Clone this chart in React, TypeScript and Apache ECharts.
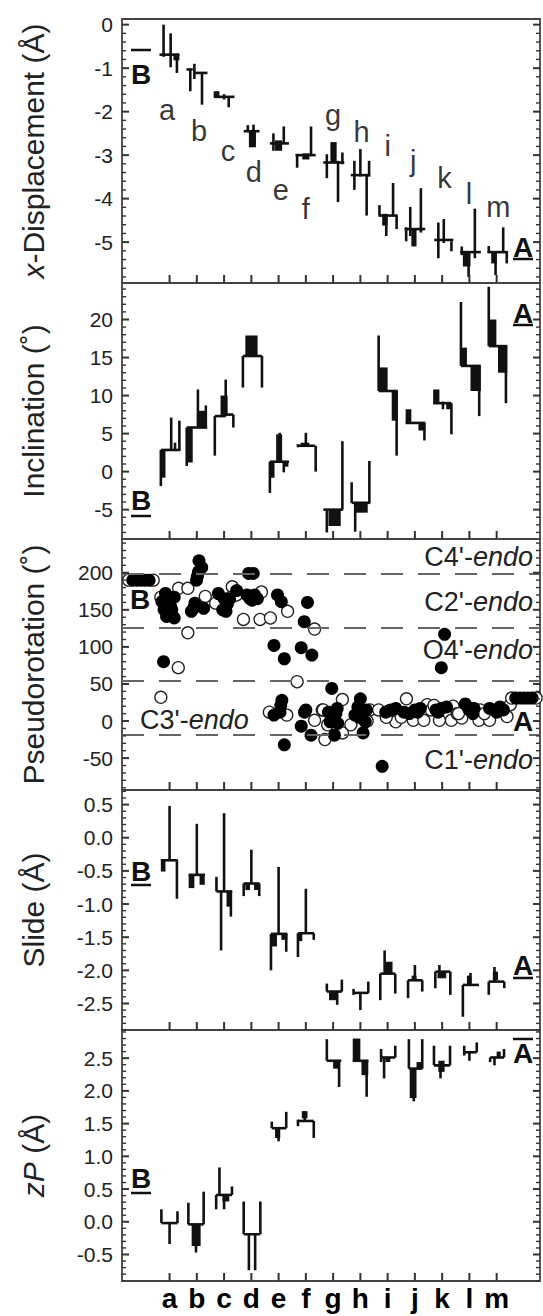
import React, { useEffect, useRef } from 'react';
import * as echarts from 'echarts';

const FONT = "'Liberation Sans', Arial, Helvetica, sans-serif";

// ---- categories (base-pair steps) ----
const CATEGORIES = ['a', 'b', 'c', 'd', 'e', 'f', 'g', 'h', 'i', 'j', 'k', 'l', 'm'];
const CAT_IDX = CATEGORIES.map((_, i) => i);
const X_MIN = -1.745;
const X_MAX = 13.59;

// ---- tick labels ----
const DISP_TICKS = [0, -1, -2, -3, -4, -5];
const INCL_TICKS = [-5, 0, 5, 10, 15, 20];
const PSEUDO_TICKS = [-50, 0, 50, 100, 150, 200];
const SLIDE_TICKS = [-2.5, -2, -1.5, -1, -0.5, 0, 0.5];
const ZP_TICKS = [-0.5, 0, 0.5, 1, 1.5, 2, 2.5];
const PSEUDO_ZONES = [-18, 54, 126, 198];

// ---- step glyphs: [category, dx1, dx2, y1, y2] ----
const DISP_SEGS: number[][] = [
  [0, -0.37, 0.36, -0.69, -0.69], [0, -0.22, -0.22, 0.0, -0.74], [0, 0.04, 0.04, -0.2, -0.98], [0, 0.14, 0.36, -0.67, -0.82], [0, 0.27, 0.27, -0.67, -1.11],
  [1, -0.38, -0.15, -1.03, -1.03], [1, -0.24, -0.24, -1.03, -1.53], [1, -0.09, -0.09, -0.9, -1.25], [1, 0.19, 0.19, -1.1, -1.84], [1, -0.09, 0.39, -1.11, -1.11],
  [2, -0.38, -0.17, -1.53, -1.65], [2, -0.38, 0.38, -1.66, -1.66], [2, 0, 0, -1.6, -1.72], [2, 0.17, 0.17, -1.66, -1.9],
  [3, -0.28, 0.3, -2.45, -2.45], [3, -0.13, -0.13, -2.31, -2.47], [3, -0.09, 0.17, -2.45, -2.82], [3, 0.08, 0.08, -2.3, -2.45],
  [4, -0.32, 0.38, -2.73, -2.73], [4, -0.19, -0.19, -2.5, -2.9], [4, 0.19, 0.19, -2.34, -2.74], [4, -0.13, 0.13, -2.66, -2.9],
  [5, -0.38, 0.36, -3.0, -3.0], [5, -0.32, -0.32, -2.98, -3.29], [5, -0.13, 0.13, -2.96, -3.1], [5, 0.19, 0.19, -2.34, -2.98],
  [6, -0.36, 0.41, -3.17, -3.17], [6, -0.23, -0.23, -2.98, -3.53], [6, -0.1, 0.13, -2.7, -3.17], [6, 0.18, 0.18, -3.13, -4.08], [6, 0.34, 0.34, -2.94, -3.21],
  [7, -0.35, 0.36, -3.46, -3.46], [7, -0.22, -0.22, -3.13, -3.8], [7, 0, 0, -2.86, -3.49], [7, 0.23, 0.23, -3.45, -4.39], [7, 0.32, 0.32, -3.13, -3.49],
  [8, -0.33, 0.37, -4.39, -4.39], [8, -0.3, -0.3, -4.15, -4.39], [8, -0.2, 0, -4.35, -4.62], [8, -0.05, -0.05, -4.39, -4.86], [8, 0.2, 0.2, -3.64, -4.39], [8, 0.33, 0.33, -4.39, -4.7],
  [9, -0.38, 0.38, -4.7, -4.7], [9, -0.32, -0.32, -4.66, -4.98], [9, -0.17, -0.17, -4.19, -4.86], [9, -0.13, 0.06, -4.7, -5.1], [9, 0.22, 0.22, -3.76, -4.78],
  [10, -0.29, 0.41, -4.95, -4.95], [10, -0.14, -0.14, -4.55, -5.37], [10, 0.06, 0.06, -4.47, -5.02], [10, 0.34, 0.34, -4.98, -5.21],
  [11, -0.34, 0.42, -5.23, -5.23], [11, -0.28, -0.28, -5.1, -5.3], [11, -0.24, 0.04, -5.21, -5.56], [11, -0.03, -0.03, -5.21, -5.8], [11, 0.2, 0.2, -4.23, -5.37],
  [12, -0.33, 0.4, -5.23, -5.23], [12, -0.29, -0.29, -5.09, -5.25], [12, -0.2, 0, -5.21, -5.49], [12, -0.04, -0.04, -5.21, -5.76], [12, 0.24, 0.24, -4.66, -5.21], [12, 0.37, 0.37, -5.21, -5.49],
];

const INCL_SEGS: number[][] = [
  [0, -0.32, -0.32, 2.85, -1.9], [0, -0.32, -0.15, 2.85, -0.8], [0, -0.32, 0.4, 2.85, 2.85], [0, 0.06, 0.06, 7.1, 2.85], [0, 0.2, 0.2, 3.8, 2.85], [0, 0.36, 0.36, 6.7, 2.85],
  [1, -0.37, -0.37, 5.8, 0.75], [1, -0.37, -0.15, 5.8, 1.2], [1, -0.37, 0.38, 5.8, 5.8], [1, 0.04, 0.04, 10.8, 5.8], [1, 0.06, 0.33, 8.0, 5.8], [1, 0.33, 0.33, 8.7, 5.8],
  [2, -0.34, -0.34, 7.3, 2.1], [2, -0.34, 0.06, 7.3, 7.3], [2, 0.06, 0.06, 12.1, 7.3], [2, -0.13, 0.13, 10.0, 7.3], [2, 0.0, 0.34, 7.5, 7.5], [2, 0.34, 0.34, 7.5, 5.8],
  [3, -0.31, -0.31, 15.2, 11.05], [3, -0.22, 0.23, 17.9, 15.2], [3, -0.31, 0.39, 15.2, 15.2], [3, 0.39, 0.39, 15.2, 11.05],
  [4, -0.32, -0.32, 1.3, -2.8], [4, -0.32, -0.15, 1.3, -0.8], [4, -0.32, 0.38, 1.3, 1.3], [4, 0.04, 0.04, 5.1, 1.3], [4, -0.09, 0.13, 4.9, 1.3], [4, 0.19, 0.19, 1.3, -0.1], [4, 0.19, 0.36, 1.3, 0.65],
  [5, -0.32, 0.33, 3.4, 3.4], [5, -0.19, 0.13, 3.8, 3.3], [5, 0, 0, 5.1, 3.4], [5, 0.36, 0.36, 3.4, 0.0], [5, -0.29, -0.29, 3.6, 3.2],
  [6, -0.23, -0.23, -5, -8.0], [6, -0.17, 0.28, -5, -7.15], [6, -0.36, 0.36, -5, -5], [6, 0.34, 0.34, 4.0, -5],
  [7, -0.32, -0.32, -1.4, -4.1], [7, -0.19, -0.19, -4.1, -7.9], [7, -0.22, 0.27, -4.1, -5.4], [7, -0.32, 0.36, -4.1, -4.1], [7, 0.33, 0.33, 1.4, -4.1],
  [8, -0.33, -0.33, 17.9, 10.6], [8, -0.33, 0, 13.7, 10.6], [8, -0.33, 0.37, 10.6, 10.6], [8, 0.15, 0.37, 10.6, 6.7], [8, 0.33, 0.33, 10.6, 2.1],
  [9, -0.34, -0.13, 8.2, 6.4], [9, -0.34, 0.38, 6.4, 6.4], [9, 0.13, 0.38, 6.4, 5.4], [9, 0.35, 0.35, 6.4, 4.1],
  [10, -0.33, -0.1, 10.8, 8.9], [10, -0.33, 0.34, 9.0, 9.0], [10, 0.03, 0.03, 9.2, 8.2], [10, 0.15, 0.34, 9.0, 8.2], [10, 0.34, 0.34, 9.0, 4.9],
  [11, -0.31, -0.31, 22.3, 13.9], [11, -0.31, -0.09, 16.3, 13.9], [11, -0.31, 0.42, 13.9, 13.9], [11, 0.04, 0.42, 13.9, 10.6], [11, 0.36, 0.36, 13.9, 7.3],
  [12, -0.29, -0.29, 24.3, 16.5], [12, -0.29, -0.01, 20, 16.5], [12, -0.29, 0.39, 16.5, 16.5], [12, 0.05, 0.39, 16.5, 13], [12, 0.34, 0.34, 16.5, 9],
];

const SLIDE_SEGS: number[][] = [
  [0, -0.32, -0.15, -0.34, -0.51], [0, 0, 0, 0.48, -0.34], [0, -0.32, 0.3, -0.34, -0.34], [0, 0.27, 0.27, -0.34, -0.92],
  [1, -0.3, -0.09, -0.56, -0.76], [1, 0, 0, 0.21, -0.56], [1, -0.3, 0.3, -0.56, -0.56], [1, 0.1, 0.29, -0.56, -0.71],
  [2, -0.28, -0.28, -0.59, -0.81], [2, -0.11, -0.11, -0.81, -1.7], [2, 0, 0, 0.37, -0.81], [2, -0.28, 0.3, -0.81, -0.81], [2, 0.09, 0.29, -0.81, -1.04], [2, 0.25, 0.25, -0.81, -1.19],
  [3, -0.28, -0.28, -0.69, -0.88], [3, 0, 0, -0.18, -0.69], [3, -0.28, 0.3, -0.69, -0.69], [3, -0.22, -0.05, -0.69, -0.79], [3, 0.1, 0.29, -0.69, -0.79], [3, 0.29, 0.29, -0.69, -0.88],
  [4, -0.28, -0.28, -1.45, -2.0], [4, -0.25, -0.06, -1.45, -1.64], [4, 0, 0, -0.44, -1.45], [4, -0.28, 0.32, -1.45, -1.45], [4, 0.1, 0.32, -1.45, -1.54], [4, 0.28, 0.28, -1.45, -1.72],
  [5, -0.29, -0.29, -1.44, -1.8], [5, -0.28, -0.13, -1.44, -1.56], [5, 0, 0, -0.77, -1.44], [5, -0.29, 0.3, -1.44, -1.44], [5, 0.29, 0.29, -1.44, -1.54],
  [6, -0.23, -0.23, -2.2, -2.32], [6, -0.23, 0.32, -2.32, -2.32], [6, -0.15, 0.15, -2.32, -2.45], [6, 0.15, 0.15, -2.32, -2.52], [6, 0.32, 0.32, -2.14, -2.32],
  [7, -0.25, -0.25, -2.28, -2.37], [7, -0.25, 0.3, -2.34, -2.34], [7, 0, 0, -2.34, -2.6], [7, 0.29, 0.29, -2.17, -2.34],
  [8, -0.27, -0.27, -2.05, -2.45], [8, -0.11, 0.18, -1.87, -2.05], [8, -0.11, -0.11, -1.7, -2.05], [8, -0.27, 0.28, -2.05, -2.05], [8, 0.28, 0.28, -2.05, -2.35],
  [9, -0.25, -0.25, -2.15, -2.42], [9, -0.25, 0.28, -2.15, -2.15], [9, -0.12, 0.06, -2.08, -2.15], [9, 0, 0, -1.92, -2.15], [9, 0.27, 0.27, -2.15, -2.32],
  [10, -0.25, -0.25, -2.02, -2.27], [10, -0.17, 0.15, -2.02, -2.12], [10, -0.1, -0.1, -1.92, -2.02], [10, -0.25, 0.3, -2.02, -2.02], [10, 0.3, 0.3, -2.02, -2.37],
  [11, -0.24, -0.24, -2.22, -2.7], [11, -0.09, 0.07, -2.08, -2.22], [11, 0.04, 0.04, -2.04, -2.22], [11, -0.24, 0.35, -2.22, -2.22],
  [12, -0.29, -0.29, -2.17, -2.37], [12, -0.14, 0.05, -2.02, -2.15], [12, -0.08, -0.08, -1.95, -2.17], [12, -0.29, 0.28, -2.17, -2.17], [12, 0.28, 0.28, -2.17, -2.27],
];

const ZP_SEGS: number[][] = [
  [0, -0.3, -0.3, 0.19, -0.02], [0, -0.3, 0.29, -0.02, -0.02], [0, 0, 0, -0.02, -0.34], [0, 0.29, 0.29, 0.16, -0.02],
  [1, -0.31, -0.31, 0.29, -0.04], [1, -0.31, 0.25, -0.04, -0.04], [1, -0.19, 0.14, -0.04, -0.37], [1, -0.03, -0.03, -0.04, -0.47], [1, 0.25, 0.25, 0.46, -0.04],
  [2, -0.29, -0.29, 0.41, 0.19], [2, -0.29, 0.29, 0.41, 0.41], [2, -0.17, -0.17, 0.83, 0.41], [2, -0.06, 0.19, 0.41, 0.31], [2, 0, 0, 0.41, 0.19], [2, 0.29, 0.29, 0.54, 0.41],
  [3, -0.28, -0.28, 0.31, -0.19], [3, -0.28, 0.33, -0.19, -0.19], [3, -0.09, -0.09, -0.19, -0.74], [3, 0.14, 0.14, -0.19, -0.74], [3, 0.33, 0.33, 0.31, -0.19],
  [4, -0.25, -0.25, 1.53, 1.43], [4, -0.25, 0.28, 1.43, 1.43], [4, -0.13, 0.06, 1.43, 1.28], [4, 0, 0, 1.43, 1.23], [4, 0.28, 0.28, 1.68, 1.43],
  [5, -0.29, -0.29, 1.56, 1.46], [5, -0.15, 0.06, 1.69, 1.58], [5, -0.04, -0.04, 1.69, 1.54], [5, -0.29, 0.29, 1.54, 1.54], [5, 0.29, 0.29, 1.54, 1.28],
  [6, -0.23, -0.23, 2.79, 2.46], [6, -0.23, 0.3, 2.46, 2.46], [6, 0, 0.25, 2.46, 2.34], [6, 0.22, 0.22, 2.46, 2.06],
  [7, -0.28, 0, 2.8, 2.46], [7, -0.28, 0.3, 2.46, 2.46], [7, 0.04, 0.29, 2.46, 2.24], [7, 0.23, 0.23, 2.46, 1.91],
  [8, -0.24, -0.24, 2.64, 2.44], [8, -0.24, 0.28, 2.51, 2.51], [8, -0.13, -0.13, 2.51, 2.19], [8, -0.08, 0.1, 2.51, 2.44], [8, 0.28, 0.28, 2.69, 2.51],
  [9, -0.22, -0.22, 2.79, 2.34], [9, -0.22, 0.27, 2.34, 2.34], [9, -0.19, 0.06, 2.34, 1.89], [9, -0.04, -0.04, 2.34, 1.84], [9, 0.06, 0.27, 2.44, 2.34], [9, 0.27, 0.27, 2.79, 2.34],
  [10, -0.3, -0.3, 2.69, 2.39], [10, -0.3, 0.29, 2.39, 2.39], [10, -0.14, 0.09, 2.46, 2.29], [10, -0.06, -0.06, 2.39, 2.19], [10, 0.29, 0.29, 2.69, 2.39],
  [11, -0.19, -0.19, 2.69, 2.54], [11, -0.19, 0.27, 2.59, 2.59], [11, 0, 0, 2.59, 2.46], [11, 0.27, 0.27, 2.74, 2.59],
  [12, -0.24, -0.24, 2.51, 2.44], [12, -0.24, 0.27, 2.51, 2.51], [12, -0.08, -0.08, 2.51, 2.39], [12, 0.0, 0.15, 2.6, 2.51], [12, 0.27, 0.27, 2.64, 2.51],
];

// ---- pseudorotation points [x, phase] ----
const PSEUDO_FILLED: number[][] = [
  [-1.35, 190], [-1.2, 190], [-1.05, 190], [-0.9, 190], [-0.75, 190],
  [-0.28, 161], [-0.15, 172], [-0.09, 156], [0.04, 154], [0.17, 167], [-0.11, 141], [0.17, 139], [-0.22, 80], [0.08, 150], [-0.2, 150],
  [0.8, 148], [0.93, 159], [0.99, 190], [1.06, 201], [1.08, 216], [1.18, 207], [1.25, 152], [1.02, 195], [0.88, 152],
  [1.79, 172], [1.95, 150], [2.07, 148], [2.2, 165], [2.46, 176], [2.0, 165], [2.12, 158],
  [2.9, 199], [3.07, 199], [2.84, 170], [3.03, 163], [3.22, 165], [2.95, 165], [3.12, 170],
  [3.96, 170], [4.1, 161], [3.83, 102], [4.21, 84], [4.08, 21], [4.05, 12], [3.83, 8], [4.21, -32], [4.12, 28],
  [5.06, 160], [4.94, 134], [4.83, 99], [5.22, 89], [5.0, 15], [4.83, -7], [5.19, -19], [4.95, 12],
  [5.95, 44], [5.83, 12], [6.02, 4], [6.15, 17], [5.89, -1], [6.17, -3], [6.05, -19], [5.95, 8], [6.1, 10],
  [7.0, 30], [6.91, 19], [7.1, 12], [6.8, 8], [7.18, -1], [7.1, -16], [7.22, 15], [6.95, 5],
  [7.93, 12], [8.12, 15], [8.3, 17], [7.8, -61], [8.05, 14],
  [8.8, 10], [9.0, 15], [9.2, 17], [8.6, 12], [9.1, 12],
  [9.77, 15], [9.97, 17], [10.16, 19], [9.97, 72], [10.09, 117], [9.85, 12],
  [10.85, 23], [11.0, 15], [11.13, 10], [11.17, 17], [10.95, 18],
  [11.74, 17], [11.93, 15], [12.12, 19], [12.25, 15], [12.0, 12],
  [12.7, 31], [12.85, 31], [13.0, 31], [13.15, 31], [13.3, 31],
];
const PSEUDO_OPEN: number[][] = [
  [-1.5, 190], [-0.6, 190],
  [-0.32, 167], [-0.32, 32], [0.32, 72], [0.33, 179],
  [0.67, 179], [0.67, 119], [1.31, 168], [1.69, 159],
  [2.3, 181], [2.26, 167], [2.71, 137], [2.45, 170],
  [3.37, 174], [3.32, 137], [3.7, 139],
  [4.33, 148], [4.68, 53], [3.66, 12], [4.3, 8],
  [5.32, 124], [5.32, 1], [5.6, 15],
  [6.34, 29], [5.64, 15], [5.7, -25], [6.34, -16], [5.8, -5],
  [6.65, -5], [7.35, 15], [7.25, 0],
  [7.67, 15], [8.3, -1], [8.69, 30], [7.95, 5], [8.5, 5],
  [8.94, 1], [9.33, 1], [9.45, 22], [9.6, 15],
  [9.7, 21], [10.34, 1], [9.9, 1], [10.4, 20], [10.55, 10],
  [10.72, 4], [11.35, 1], [10.6, 10], [11.4, 15],
  [11.74, 1], [12.38, 6], [11.55, 10], [12.5, 22],
  [12.55, 31], [13.45, 31],
];

// ---- step letters placed in the x-displacement panel ----
const DISP_LETTER_X = [-0.09, 1.08, 2.14, 3.09, 4.08, 5.0, 6.0, 7.04, 8.0, 8.94, 10.09, 10.98, 12.06];
const DISP_LETTER_Y = [-1.97, -2.44, -2.91, -3.38, -3.81, -4.24, -2.08, -2.46, -2.8, -3.14, -3.53, -3.89, -4.2];

const GRID_LEFT = 122;
const GRID_WIDTH = 418;
const GRIDS = [
  { top: 19, height: 264 },
  { top: 283, height: 256 },
  { top: 539, height: 251 },
  { top: 790, height: 240 },
  { top: 1030, height: 251 },
];

const fmtInt = (v: number) => String(Math.round(v));
const fmt1 = (v: number) => (Math.abs(v) < 1e-9 ? '0.0' : v.toFixed(1));

const PANELS = [
  { name: '{i|x}-Displacement (Å)', min: -5.94, max: 0.13, ticks: DISP_TICKS, minor: 0.2, fmt: fmtInt },
  { name: 'Inclination (˚)', min: -8.86, max: 24.8, ticks: INCL_TICKS, minor: 1, fmt: fmtInt },
  { name: 'Pseudorotation (˚)', min: -93, max: 245.5, ticks: PSEUDO_TICKS, minor: 10, fmt: fmtInt },
  { name: 'Slide (Å)', min: -2.9, max: 0.72, ticks: SLIDE_TICKS, minor: 0.1, fmt: fmt1 },
  { name: '{i|zP} (Å)', min: -0.905, max: 2.93, ticks: ZP_TICKS, minor: 0.1, fmt: fmt1 },
];

function minorValues(min: number, max: number, step: number) {
  const out: number[] = [];
  const start = Math.ceil(min / step - 1e-9);
  for (let k = start; k * step <= max + 1e-9; k++) out.push(Math.round(k * step * 1e6) / 1e6);
  return out;
}

const AXIS_COLOR = '#444';
const TICK_COLOR = '#333';

function renderStep(params: any, api: any) {
  const c = api.value(0);
  const p1 = api.coord([c + api.value(1), api.value(3)]);
  const p2 = api.coord([c + api.value(2), api.value(4)]);
  let x = Math.min(p1[0], p2[0]);
  let w = Math.abs(p1[0] - p2[0]);
  let y = Math.min(p1[1], p2[1]);
  let h = Math.abs(p1[1] - p2[1]);
  const T = 2.6;
  if (w < T) { x -= (T - w) / 2; w = T; }
  if (h < T) { y -= (T - h) / 2; h = T; }
  return { type: 'rect', shape: { x, y, width: w, height: h }, style: { fill: '#111' } };
}

function baseGraphic() {
  const bold = (text: string, x: number, y: number) => ({
    type: 'text', x, y, style: { text, fontFamily: FONT, fontWeight: 'bold', fontSize: 28, fill: '#111', align: 'center', verticalAlign: 'middle' },
  });
  const bar = (x: number, y: number) => ({
    type: 'rect', shape: { x: x - 10, y: y - 1.25, width: 20, height: 2.5 }, style: { fill: '#111' },
  });
  const zone = (label: string, x: number, y: number, align: string) => ({
    type: 'text', x, y,
    style: {
      text: `{n|${label}-}{i|endo}`, align, verticalAlign: 'middle',
      rich: {
        n: { fontFamily: FONT, fontSize: 27, fill: '#222', color: '#222' },
        i: { fontFamily: FONT, fontSize: 27, fontStyle: 'italic', fill: '#222', color: '#222' },
      },
    },
  });
  return [
    bold('B', 141, 74), bar(141, 50),
    bold('A', 523, 247), bar(523, 259),
    bold('A', 523, 313), bar(523, 325),
    bold('B', 141, 500), bar(141, 516),
    bold('B', 140, 599),
    bold('A', 523, 721),
    bold('B', 141, 871), bar(141, 885),
    bold('A', 523, 965), bar(523, 978),
    bold('A', 523, 1053), bar(523, 1039),
    bold('B', 141, 1178), bar(141, 1193),
    zone("C4'", 533, 557, 'right'),
    zone("C2'", 533, 602, 'right'),
    zone("O4'", 533, 650, 'right'),
    zone("C3'", 140, 720, 'left'),
    zone("C1'", 533, 760, 'right'),
  ];
}

// frame ticks, positioned through the chart's own axis scales
function tickGraphic(chart: any) {
  const out: any[] = [];
  PANELS.forEach((p, i) => {
    const conv = (x: number, y: number) => chart.convertToPixel({ gridIndex: i }, [x, y]) as number[];
    CAT_IDX.forEach((c) => {
      const q = conv(c, p.min);
      if (!q) return;
      out.push({ type: 'rect', z: 100, shape: { x: q[0] - 1, y: q[1] - 8, width: 2, height: 8 }, style: { fill: TICK_COLOR } });
    });
    const minors = minorValues(p.min, p.max, p.minor).filter((m) => !p.ticks.some((t) => Math.abs(t - m) < 1e-6));
    const add = (v: number, major: boolean) => {
      const l = conv(X_MIN, v);
      const r = conv(X_MAX, v);
      if (!l || !r) return;
      const len = major ? 7 : 4;
      const th = major ? 2 : 1.4;
      out.push({ type: 'rect', z: 100, shape: { x: l[0], y: l[1] - th / 2, width: len, height: th }, style: { fill: TICK_COLOR } });
      out.push({ type: 'rect', z: 100, shape: { x: r[0] - len, y: r[1] - th / 2, width: len, height: th }, style: { fill: TICK_COLOR } });
    };
    p.ticks.forEach((t) => add(t, true));
    minors.forEach((m) => add(m, false));
  });
  return out;
}

function buildOption() {
  const grid = GRIDS.map((g) => ({
    left: GRID_LEFT, width: GRID_WIDTH, top: g.top, height: g.height,
    show: true, borderColor: AXIS_COLOR, borderWidth: 1.8,
  }));

  const xAxis = GRIDS.map((_, i) => ({
    gridIndex: i, type: 'value', min: X_MIN, max: X_MAX, position: 'bottom',
    axisLine: { show: false, onZero: false }, splitLine: { show: false }, axisTick: { show: false },
    axisLabel: i === 4
      ? { show: true, customValues: CAT_IDX, formatter: (v: number) => CATEGORIES[Math.round(v)] ?? '', fontFamily: FONT, fontWeight: 'bold', fontSize: 28, color: '#000', margin: 3 }
      : { show: false },
  }));

  const yAxis = PANELS.map((p, i) => ({
    gridIndex: i, type: 'value', min: p.min, max: p.max, position: 'left',
    axisLine: { show: false, onZero: false }, splitLine: { show: false }, axisTick: { show: false },
    axisLabel: { show: true, customValues: p.ticks, formatter: p.fmt, fontFamily: FONT, fontSize: 21, color: '#222', margin: 9 },
    name: p.name, nameLocation: 'middle', nameGap: 74,
    nameTextStyle: { fontFamily: FONT, fontSize: 30, color: '#222', rich: { i: { fontFamily: FONT, fontSize: 30, fontStyle: 'italic', color: '#222' } } },
  }));

  const stepSeries = (data: number[][], i: number) => ({
    type: 'custom', xAxisIndex: i, yAxisIndex: i, data, renderItem: renderStep,
    encode: { x: 0, y: 3 }, silent: true,
  });

  const series: any[] = [
    stepSeries(DISP_SEGS, 0), stepSeries(INCL_SEGS, 1), stepSeries(SLIDE_SEGS, 3), stepSeries(ZP_SEGS, 4),
    {
      type: 'scatter', xAxisIndex: 0, yAxisIndex: 0, symbolSize: 1, itemStyle: { color: 'transparent' },
      data: CATEGORIES.map((c, k) => ({ name: c, value: [DISP_LETTER_X[k], DISP_LETTER_Y[k]] })),
      label: { show: true, position: 'inside', formatter: (q: any) => q.name, fontFamily: FONT, fontSize: 29, color: '#000' },
      silent: true,
    },
    {
      type: 'scatter', xAxisIndex: 2, yAxisIndex: 2, symbol: 'circle', symbolSize: 12,
      itemStyle: { color: '#fff', borderColor: '#222', borderWidth: 1.3, opacity: 1 },
      data: PSEUDO_OPEN, silent: true,
      markLine: {
        silent: true, symbol: ['none', 'none'], label: { show: false },
        lineStyle: { type: [22, 15], color: '#666', width: 2 },
        data: PSEUDO_ZONES.map((v) => ({ yAxis: v })),
      },
    },
    {
      type: 'scatter', xAxisIndex: 2, yAxisIndex: 2, symbol: 'circle', symbolSize: 13,
      itemStyle: { color: '#000', opacity: 1 }, data: PSEUDO_FILLED, silent: true,
    },
  ];

  return { animation: false, backgroundColor: '#fff', grid, xAxis, yAxis, series, graphic: baseGraphic() };
}

export default function App() {
  const ref = useRef<HTMLDivElement>(null);
  useEffect(() => {
    document.body.style.margin = '0';
    if (!ref.current) return;
    const chart = echarts.init(ref.current, undefined, { renderer: 'svg' });
    chart.setOption(buildOption() as any);
    chart.setOption({ graphic: [...baseGraphic(), ...tickGraphic(chart)] } as any);
    return () => chart.dispose();
  }, []);
  return <div ref={ref} style={{ width: 543, height: 1316, background: '#fff' }} />;
}
